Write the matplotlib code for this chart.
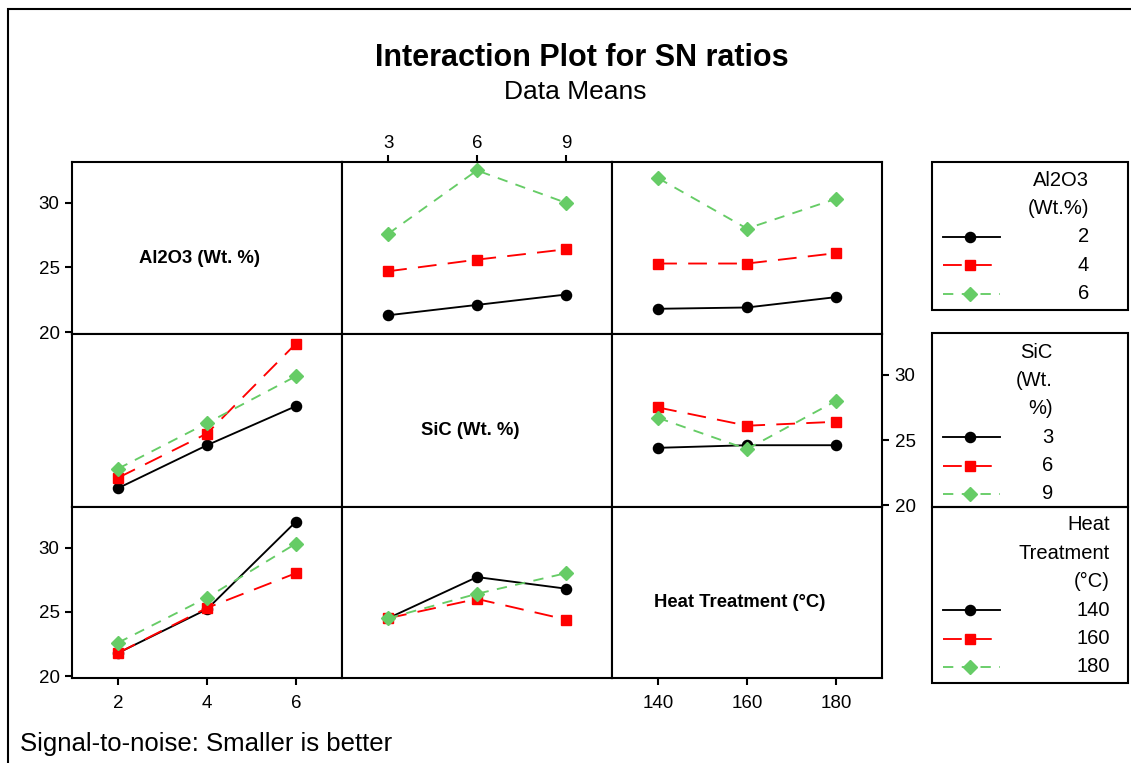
import matplotlib
matplotlib.use("Agg")
import matplotlib.pyplot as plt
from matplotlib.lines import Line2D
from matplotlib.patches import Rectangle

plt.rcParams['font.family'] = ['Liberation Sans', 'DejaVu Sans']

# niveis dos fatores
al2o3_levels = [2, 4, 6]
sic_levels = [3, 6, 9]
heat_levels = [140, 160, 180]

factor_names = ["Al2O3 (Wt. %)", "SiC (Wt. %)", "Heat Treatment (°C)"]

# medias das razoes SN (uma linha por nivel do fator da linha do painel)
al_vs_sic = [[21.3, 22.1, 22.9], [24.7, 25.6, 26.4], [27.6, 32.5, 30.0]]
al_vs_heat = [[21.8, 21.9, 22.7], [25.3, 25.3, 26.1], [31.9, 28.0, 30.3]]
sic_vs_al = [[21.3, 24.6, 27.6], [22.1, 25.5, 32.4], [22.8, 26.3, 29.9]]
sic_vs_heat = [[24.4, 24.6, 24.6], [27.5, 26.1, 26.4], [26.7, 24.3, 28.0]]
heat_vs_al = [[21.8, 25.2, 32.0], [21.8, 25.3, 28.0], [22.6, 26.1, 30.3]]
heat_vs_sic = [[24.5, 27.7, 26.8], [24.5, 26.0, 24.4], [24.5, 26.4, 28.0]]

y_ticks = [20, 25, 30]

legend_titles = [["Al2O3", "(Wt.%)"], ["SiC", "(Wt.", "%)"], ["Heat", "Treatment", "(°C)"]]

levels = [al2o3_levels, sic_levels, heat_levels]
panels = {(0, 1): al_vs_sic, (0, 2): al_vs_heat,
          (1, 0): sic_vs_al, (1, 2): sic_vs_heat,
          (2, 0): heat_vs_al, (2, 1): heat_vs_sic}

styles = [
    dict(color='black', marker='o', markersize=7.3, linestyle='-'),
    dict(color='red', marker='s', markersize=7.5, dashes=(10, 6)),
    dict(color='#66CC66', marker='D', markersize=6.8, dashes=(5.5, 4.5)),
]

W, H = 1131, 763
fig = plt.figure(figsize=(W / 100, H / 100), dpi=100)

col_edges = [72, 342, 612, 882]
row_edges = [162, 334, 507, 678]


def px_axes(x0, y0, x1, y1):
    return fig.add_axes([x0 / W, 1 - y1 / H, (x1 - x0) / W, (y1 - y0) / H])


for r in range(3):
    for c in range(3):
        ax = px_axes(col_edges[c], row_edges[r], col_edges[c + 1], row_edges[r + 1])
        for s in ax.spines.values():
            s.set_linewidth(1.5)
        lv = levels[c]
        step = lv[1] - lv[0]
        ax.set_xlim(lv[1] - 1.52 * step, lv[1] + 1.52 * step)
        ax.set_ylim(19.85, 33.15)
        ax.tick_params(length=5, width=1.5, labelsize=13.5, direction='out')
        ax.set_xticks([])
        ax.set_yticks([])
        if r == c:
            ax.text(0.474, 0.44, factor_names[r], transform=ax.transAxes,
                    ha='center', va='center', fontsize=13.3, fontweight='bold')
        else:
            for k, vals in enumerate(panels[(r, c)]):
                ax.plot(lv, vals, linewidth=1.35, **styles[k])
        # eixos
        if c == 0 and r != 1:
            ax.set_yticks(y_ticks)
            ax.tick_params(axis='y', pad=4)
        if r == 1 and c == 2:
            ax.yaxis.tick_right()
            ax.set_yticks(y_ticks)
            ax.tick_params(axis='y', pad=4)
        if r == 0 and c == 1:
            ax.xaxis.tick_top()
            ax.set_xticks(lv)
            ax.tick_params(axis='x', pad=2)
        if r == 2 and c != 1:
            ax.set_xticks(lv)
            ax.tick_params(axis='x', pad=7)

# legendas
leg_boxes = [(932, 162, 1128, 310), (932, 333, 1128, 507), (932, 507, 1128, 683)]
leg_right = [1089, 1053, 1110]
leg_start = [180, 352, 525]
ov = fig.add_axes([0, 0, 1, 1])
ov.set_xlim(0, W)
ov.set_ylim(H, 0)
ov.axis('off')
for b in range(3):
    x0, y0, x1, y1 = leg_boxes[b]
    ov.add_patch(Rectangle((x0, y0), x1 - x0, y1 - y0, fill=False, lw=1.5, edgecolor='black'))
    y = leg_start[b]
    for t in legend_titles[b]:
        ov.text(leg_right[b], y, t, ha='right', va='center', fontsize=14.5)
        y += 28.4
    for k, lvl in enumerate(levels[b]):
        xend = 995 if k == 1 else 1000
        st = dict(styles[k])
        ms = st.pop('markersize')
        mk = st.pop('marker')
        ov.add_line(Line2D([943, xend], [y, y], linewidth=1.35, **st))
        ov.plot([970], [y], marker=mk, markersize=ms, color=styles[k]['color'], linestyle='none')
        ov.text(leg_right[b], y, str(lvl), ha='right', va='center', fontsize=14.5)
        y += 28.4

# moldura externa
fig.add_artist(Rectangle((7.5 / W, -0.1), 1.2, 1.1 - 9.5 / H, transform=fig.transFigure,
                         fill=False, lw=1.5, edgecolor='black'))

fig.text(582 / W, 1 - 58 / H, "Interaction Plot for SN ratios", ha='center', va='center',
         fontsize=22, fontweight='bold')
fig.text(575 / W, 1 - 92 / H, "Data Means", ha='center', va='center', fontsize=19)
fig.text(20 / W, 1 - 751 / H, "Signal-to-noise: Smaller is better", ha='left', va='baseline',
         fontsize=18.5)

fig.savefig("out.png", dpi=100)
